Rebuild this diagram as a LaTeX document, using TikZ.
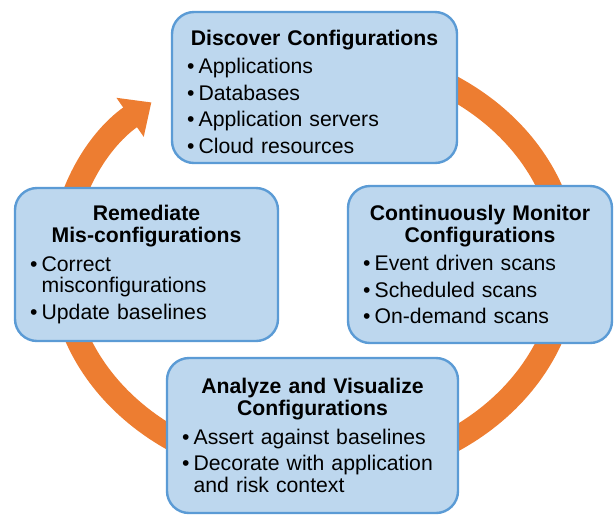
\documentclass[tikz,border=0pt]{standalone}
\usepackage{fontspec}
\setmainfont{Liberation Sans}
\usetikzlibrary{arrows.meta}

\definecolor{ringorange}{HTML}{ED7D31}
\definecolor{boxfill}{HTML}{BDD7EE}
\definecolor{boxline}{HTML}{5B9BD5}

\newcommand{\stagetitle}[1]{{\centering\bfseries #1\par}\vspace{1.2pt}}
\newcommand{\stageitem}[1]{\par\noindent\makebox[0.55em][l]{\textbullet}#1}
\newcommand{\stagemore}[1]{\par\vspace{-\parskip}\noindent\makebox[0.55em]{}#1}

\begin{document}
\begin{tikzpicture}[x=0.5pt,y=-0.5pt,
  stage/.style={draw=boxline,fill=boxfill,line width=1.2pt,rounded corners=11pt,
    align=left,inner xsep=7.5pt,inner ysep=0pt,
    font=\fontsize{10.6}{10.8}\selectfont,
    execute at begin node=\setlength{\parskip}{2.4pt}}]

\useasboundingbox (0,0) rectangle (614,516);

% the cycle arrow, behind the boxes
\coordinate (ringstart) at (440.5,81.3);
\draw[ringorange,line width=12pt,-{Triangle[length=13pt,width=23pt]}]
  (ringstart) arc[start angle=60,end angle=-230,x radius=126.5pt,y radius=105.5pt];

\node[stage,text width=127.5pt,minimum height=75.5pt] (discover) at (314.5,87.5)
  {\par\vspace*{-1.5pt}
   \stagetitle{Discover Configurations}
   \stageitem{Applications}
   \stageitem{Databases}
   \stageitem{Application servers}
   \stageitem{Cloud resources}};

\node[stage,text width=117pt,minimum height=78.5pt] (monitor) at (480,264.5)
  {\stagetitle{Continuously Monitor\\Configurations}
   \stageitem{Event driven scans}
   \stageitem{Scheduled scans}
   \stageitem{On-demand scans}};

\node[stage,text width=130.5pt,minimum height=77.5pt] (analyze) at (312.5,435.5)
  {\stagetitle{Analyze and Visualize\\Configurations}
   \stageitem{Assert against baselines}
   \stageitem{Decorate with application}
   \stagemore{and risk context}};

\node[stage,text width=116.5pt,minimum height=76.5pt] (remediate) at (146.5,264.5)
  {\stagetitle{Remediate\\Mis-configurations}
   \stageitem{Correct}
   \stagemore{misconfigurations}
   \stageitem{Update baselines}};

\end{tikzpicture}
\end{document}
